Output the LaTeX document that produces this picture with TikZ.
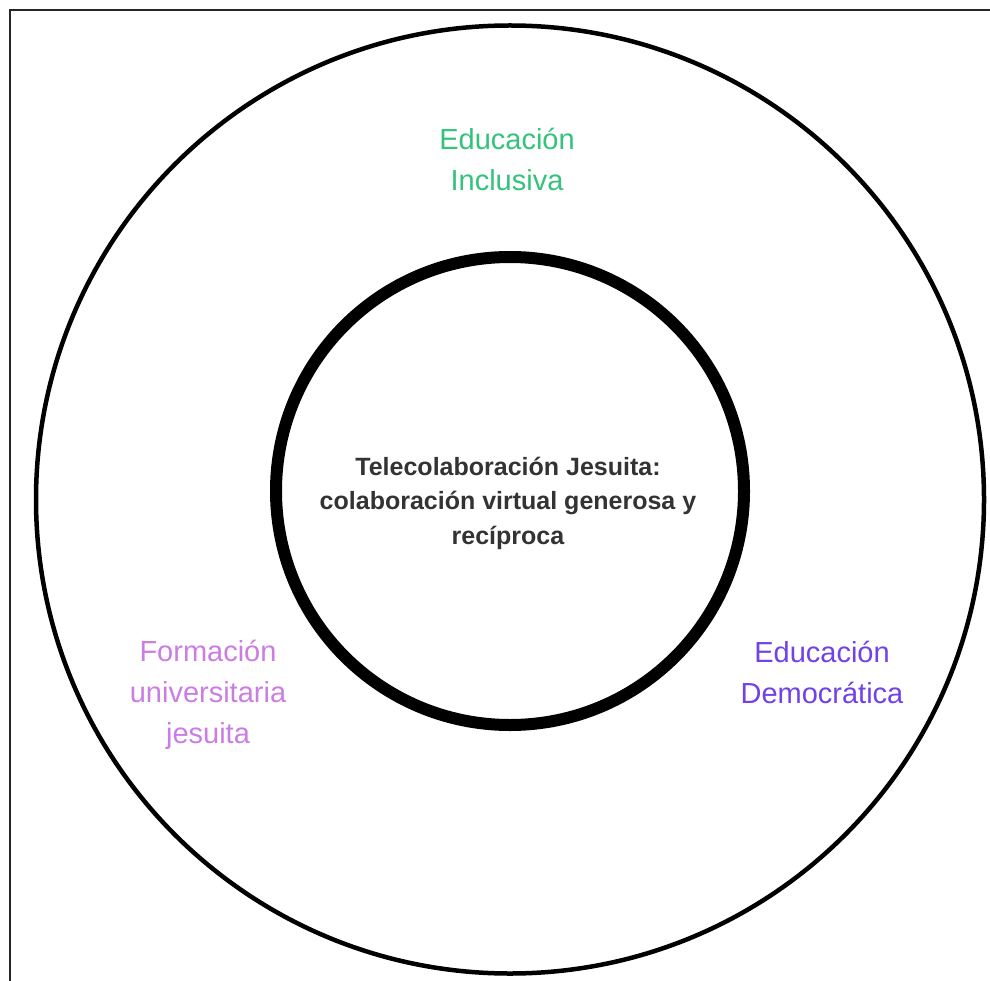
\documentclass[tikz,border=0pt]{standalone}
\usepackage{fontspec}
\setmainfont{Liberation Sans}
\definecolor{inclgreen}{RGB}{52,194,124}
\definecolor{formlilac}{RGB}{203,126,226}
\definecolor{demopurple}{RGB}{112,66,232}
\definecolor{coretext}{RGB}{51,51,51}
\begin{document}
\begin{tikzpicture}[x=1pt,y=-1pt,
  ringlabel/.style={align=center,inner sep=0pt,font=\fontsize{29}{41}\selectfont},
  corelabel/.style={align=center,inner sep=0pt,text=coretext,font=\bfseries\fontsize{25}{34.5}\selectfont}]
  \useasboundingbox (0,0) rectangle (990,981);
  \fill[white] (0,0) rectangle (990,981);
  % frame (only the left and top edges fall inside the page)
  \draw[line width=2pt,black!85] (10,990) -- (10,10) -- (1000,10);
  % outer ring and inner core
  \draw[line width=4.5pt] (510,499.5) circle[radius=474];
  \draw[line width=12pt] (510,491) circle[radius=234];
  % labels
  \node[corelabel] (core) at (508,503) {Telecolaboración Jesuita:\\colaboración virtual generosa y\\recíproca};
  \node[ringlabel,text=inclgreen] (incl) at (507,159.5) {Educación\\Inclusiva};
  \node[ringlabel,text=formlilac] (form) at (208,695) {Formación\\universitaria\\jesuita};
  \node[ringlabel,text=demopurple] (demo) at (822,672) {Educación\\Democrática};
\end{tikzpicture}
\end{document}
